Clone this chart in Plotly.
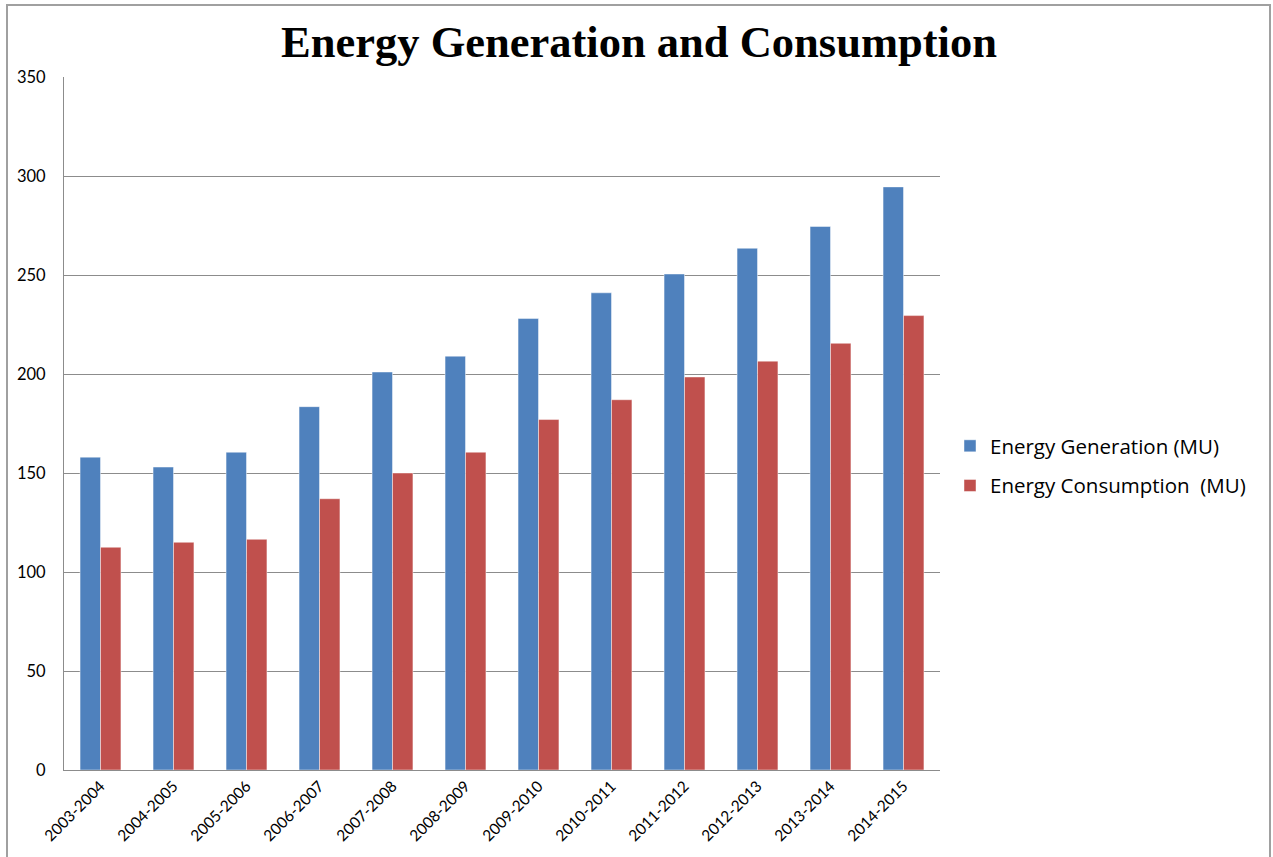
import plotly.graph_objects as go

# Fiscal years on the category axis
years = ["2003-2004", "2004-2005", "2005-2006", "2006-2007", "2007-2008", "2008-2009",
         "2009-2010", "2010-2011", "2011-2012", "2012-2013", "2013-2014", "2014-2015"]

# Annual energy figures in million units (MU)
generation = [158, 153, 160.5, 183.5, 201, 209, 228, 241, 250.5, 263.5, 274.5, 294.5]
consumption = [112.5, 115, 116.5, 137, 150, 160.5, 177, 187, 198.5, 206.5, 215.5, 229.5]

y_ticks = [0, 50, 100, 150, 200, 250, 300, 350]

W, H = 1273, 857
L, R, T, B = 64, 333, 77, 87
pw, ph = W - L - R, H - T - B


def px_x(p):
    return (p - L) / pw


def px_y(p):
    return (H - B - p) / ph


x_tick_font = dict(family="Lato, 'Open Sans', sans-serif", size=15.5, color="#000000")
y_tick_font = dict(family="Lato, 'Open Sans', sans-serif", size=16.5, color="#000000")

fig = go.Figure()
fig.add_trace(go.Bar(
    x=years, y=generation, name="Energy Generation (MU)",
    marker=dict(color="#4F81BD", line=dict(color="rgba(255,255,255,0.45)", width=1)),
    legendgroup="gen",
))
fig.add_trace(go.Bar(
    x=years, y=consumption, name="Energy Consumption\u00a0 (MU)",
    marker=dict(color="#C0504D", line=dict(color="rgba(255,255,255,0.45)", width=1)),
    legendgroup="con",
))

fig.update_layout(
    width=W, height=H,
    margin=dict(l=L, r=R, t=T, b=B, autoexpand=False),
    paper_bgcolor="white", plot_bgcolor="white",
    barmode="group", bargap=0.44, bargroupgap=0,
    title=dict(
        text="<b>Energy Generation and Consumption</b>",
        font=dict(family="'Liberation Serif', 'Times New Roman', serif", size=44.5, color="#000000"),
        x=639 / W, xref="container", xanchor="center",
        y=1 - 41 / H, yref="container", yanchor="middle",
    ),
    legend=dict(
        x=px_x(950), y=px_y(466), xanchor="left", yanchor="middle",
        font=dict(family="'Open Sans', Lato, sans-serif", size=20.5, color="#000000"),
        traceorder="grouped", tracegroupgap=10,
        bgcolor="rgba(0,0,0,0)",
    ),
    xaxis=dict(
        tickangle=-45, tickfont=x_tick_font,
        showline=True, linecolor="#8c8c8c", linewidth=1,
        showgrid=False, ticks="",
    ),
    yaxis=dict(
        range=[0, 350], tickvals=y_ticks, tickfont=y_tick_font,
        showgrid=True, gridcolor="#8c8c8c", gridwidth=1,
        showline=True, linecolor="#8c8c8c", linewidth=1,
        zeroline=False, ticks="", ticklabelstandoff=14,
    ),
    shapes=[
        # outer chart frame
        dict(type="rect", xref="paper", yref="paper",
             x0=px_x(7), x1=px_x(1270), y0=px_y(870), y1=px_y(5),
             line=dict(color="#a0a0a0", width=2), fillcolor="rgba(0,0,0,0)",
             layer="below"),
    ],
)

fig.write_html("out.html")
